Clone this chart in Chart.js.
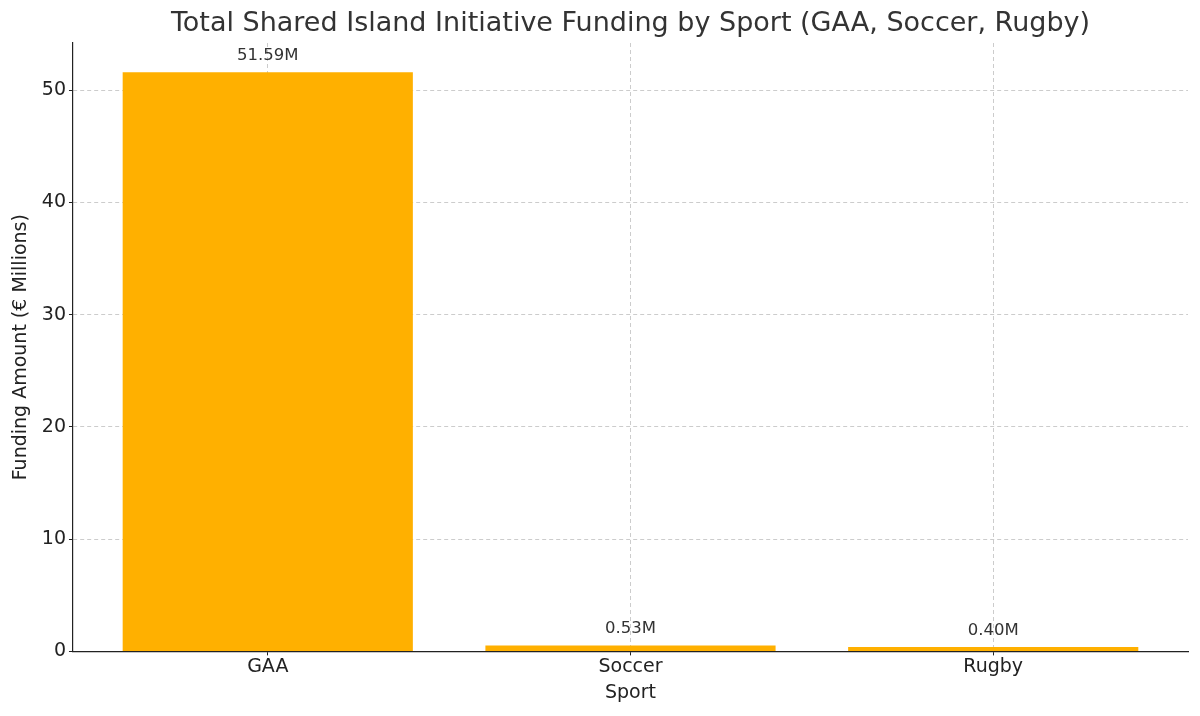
<!DOCTYPE html>
<html>
<head>
<meta charset="utf-8">
<script src="https://cdn.jsdelivr.net/npm/chart.js@4.4.1/dist/chart.umd.min.js"></script>
<style>
  html, body { margin: 0; padding: 0; background: #fff; }
  #wrap { width: 1200px; height: 716px; }
</style>
</head>
<body>
<div id="wrap"><canvas id="funding-chart"></canvas></div>
<script>
// Values
const sports = ['GAA', 'Soccer', 'Rugby'];
const funding = [51.59, 0.53, 0.40];
const yTicks = [0, 10, 20, 30, 40, 50];

const FONT = "'DejaVu Sans', sans-serif";
const BAR_COLOR = '#FFB000';
const TITLE = 'Total Shared Island Initiative Funding by Sport (GAA, Soccer, Rugby)';

// title centred over the plot area (not the whole canvas), like matplotlib does
const plotTitle = {
    id: 'plotTitle',
    afterDraw(chart) {
        const ctx = chart.ctx;
        const area = chart.chartArea;
        ctx.save();
        ctx.font = '27px ' + FONT;
        ctx.fillStyle = '#333333';
        ctx.textAlign = 'center';
        ctx.textBaseline = 'middle';
        ctx.fillText(TITLE, (area.left + area.right) / 2, 24);
        ctx.restore();
    }
};

// draws the "51.59M" style labels above each bar
const barLabels = {
    id: 'barLabels',
    afterDatasetsDraw(chart) {
        const ctx = chart.ctx;
        const meta = chart.getDatasetMeta(0);
        ctx.save();
        ctx.font = '16.5px ' + FONT;
        ctx.fillStyle = '#333333';
        ctx.textAlign = 'center';
        ctx.textBaseline = 'bottom';
        meta.data.forEach((bar, i) => {
            ctx.fillText(funding[i].toFixed(2) + 'M', bar.x, bar.y - 8);
        });
        ctx.restore();
    }
};

const ctx = document.getElementById('funding-chart').getContext('2d');
new Chart(ctx, {
    type: 'bar',
    data: {
        datasets: [{
            data: funding.map((v, i) => ({ x: i, y: v })),
            backgroundColor: BAR_COLOR,
            borderWidth: 0,
            barPercentage: 1,
            categoryPercentage: 0.8
        }]
    },
    options: {
        responsive: true,
        maintainAspectRatio: false,
        animation: false,
        layout: { padding: { left: 10, right: 12, top: 43, bottom: 12 } },
        plugins: {
            legend: { display: false },
            tooltip: { enabled: false },
            title: { display: false }
        },
        scales: {
            x: {
                type: 'linear',
                offset: false,
                min: -0.537,
                max: 2.537,
                afterBuildTicks: function(scale) {
                    scale.ticks = sports.map((s, i) => ({ value: i }));
                },
                ticks: {
                    color: '#222222',
                    font: { family: FONT, size: 19 },
                    padding: 0,
                    callback: function(value) { return sports[value]; }
                },
                grid: {
                    offset: false,
                    color: '#cccccc',
                    borderDash: [4, 3],
                    tickLength: 4,
                    tickColor: '#222222'
                },
                border: { color: '#222222', width: 1.2, dash: [4, 3] },
                title: {
                    display: true,
                    text: 'Sport',
                    color: '#222222',
                    font: { family: FONT, size: 19 },
                    padding: { top: 3, bottom: 0 }
                }
            },
            y: {
                min: 0,
                max: 54.2,
                afterBuildTicks: function(scale) {
                    scale.ticks = yTicks.map(v => ({ value: v }));
                },
                ticks: {
                    color: '#222222',
                    font: { family: FONT, size: 19 },
                    padding: 3,
                    includeBounds: false
                },
                grid: {
                    color: '#cccccc',
                    tickLength: 4,
                    tickColor: '#222222'
                },
                border: { color: '#222222', width: 1.2, dash: [4, 3] },
                title: {
                    display: true,
                    text: 'Funding Amount (€ Millions)',
                    color: '#222222',
                    font: { family: FONT, size: 19 },
                    padding: { top: 0, bottom: 6 }
                }
            }
        }
    },
    plugins: [barLabels, plotTitle]
});
</script>
</body>
</html>
